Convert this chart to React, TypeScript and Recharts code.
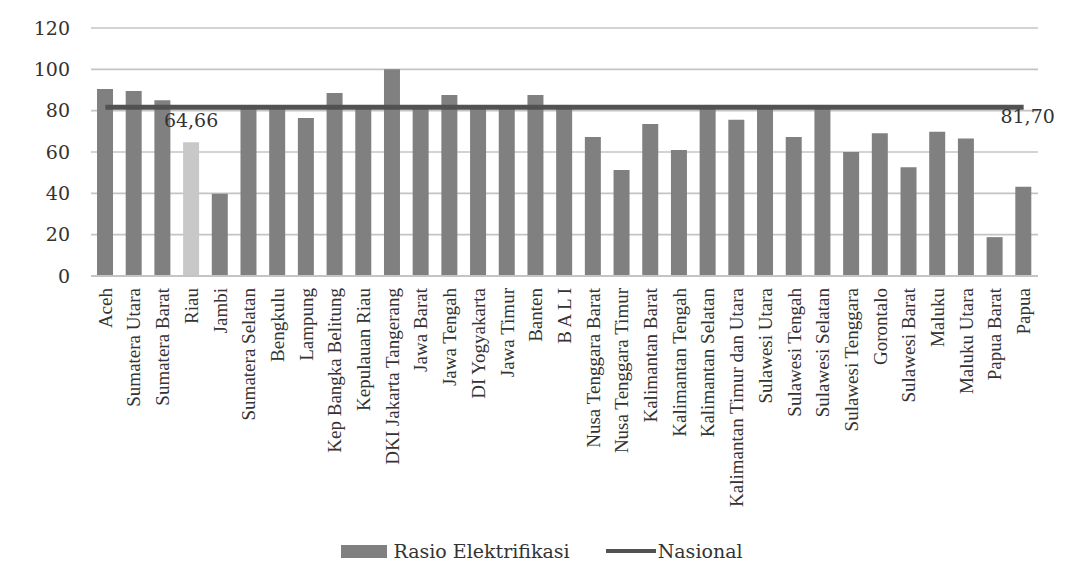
import {
  ComposedChart,
  Bar,
  Line,
  Cell,
  CartesianGrid,
  XAxis,
  YAxis,
  Legend,
  LabelList,
} from "recharts";

const PROVINSI = [
  "Aceh",
  "Sumatera Utara",
  "Sumatera Barat",
  "Riau",
  "Jambi",
  "Sumatera Selatan",
  "Bengkulu",
  "Lampung",
  "Kep Bangka Belitung",
  "Kepulauan Riau",
  "DKI Jakarta Tangerang",
  "Jawa Barat",
  "Jawa Tengah",
  "DI Yogyakarta",
  "Jawa Timur",
  "Banten",
  "B A L I",
  "Nusa Tenggara Barat",
  "Nusa Tenggara Timur",
  "Kalimantan Barat",
  "Kalimantan Tengah",
  "Kalimantan Selatan",
  "Kalimantan Timur dan Utara",
  "Sulawesi Utara",
  "Sulawesi Tengah",
  "Sulawesi Selatan",
  "Sulawesi Tenggara",
  "Gorontalo",
  "Sulawesi Barat",
  "Maluku",
  "Maluku Utara",
  "Papua Barat",
  "Papua",
];

const RASIO = [
  90.5, 89.5, 85, 64.66, 39.8, 81, 81, 76.5, 88.5, 82.5, 100, 81.5, 87.6, 81,
  81.5, 87.6, 81.5, 67.3, 51.3, 73.6, 61, 81.5, 75.6, 81.5, 67.3, 81.5, 60, 69.1,
  52.6, 69.8, 66.5, 18.8, 43.2,
];

const NASIONAL = 81.7;
const SOROTAN = "Riau";

const Y_TICKS = [0, 20, 40, 60, 80, 100, 120];

const BAR_COLOR = "#808080";
const HIGHLIGHT_COLOR = "#c8c8c8";
const LINE_COLOR = "#525252";
const GRID_COLOR = "#c4c4c4";
const TEXT_COLOR = "#333333";

const data = PROVINSI.map((name, i) => ({
  name,
  rasio: RASIO[i],
  nasional: NASIONAL,
}));

const fmt = (v: number) => v.toFixed(2).replace(".", ",");

function ProvinsiTick({ x, y, payload }: any) {
  return (
    <text
      x={x}
      y={y}
      dy="0.34em"
      transform={`rotate(-90, ${x}, ${y})`}
      textAnchor="end"
      fontFamily="'Liberation Serif', serif"
      fontSize={19}
      fill={TEXT_COLOR}
    >
      {payload.value}
    </text>
  );
}

function LegendKonten() {
  return (
    <div
      style={{
        display: "flex",
        alignItems: "center",
        justifyContent: "center",
        paddingLeft: 46,
        paddingTop: 8,
        fontFamily: "'DejaVu Serif', serif",
        fontSize: 19,
        color: TEXT_COLOR,
      }}
    >
      <span
        style={{
          display: "inline-block",
          width: 46,
          height: 13,
          background: BAR_COLOR,
          marginRight: 6,
        }}
      />
      <span style={{ marginRight: 36 }}>Rasio Elektrifikasi</span>
      <span
        style={{
          display: "inline-block",
          width: 50,
          height: 4,
          background: LINE_COLOR,
          marginRight: 2,
        }}
      />
      <span>Nasional</span>
    </div>
  );
}

export default function App() {
  return (
    <div style={{ position: "absolute", left: 0, top: 0, background: "#fff" }}>
      <ComposedChart
        width={1078}
        height={572}
        data={data}
        margin={{ top: 28, right: 40, bottom: 0, left: 0 }}
      >
        <CartesianGrid
          vertical={false}
          stroke={GRID_COLOR}
          strokeWidth={1.6}
        />
        <XAxis
          dataKey="name"
          interval={0}
          height={256}
          tickLine={false}
          axisLine={{ stroke: GRID_COLOR, strokeWidth: 2 }}
          tickSize={4}
          tickMargin={8}
          tick={<ProvinsiTick />}
        />
        <YAxis
          domain={[0, 120]}
          ticks={Y_TICKS}
          width={91}
          axisLine={false}
          tickLine={false}
          tickSize={6}
          tickMargin={15}
          tick={{
            fontFamily: "'DejaVu Serif', serif",
            fontSize: 19,
            fill: TEXT_COLOR,
          }}
        />
        <Legend verticalAlign="bottom" height={40} content={<LegendKonten />} />
        <Bar dataKey="rasio" barSize={16} fill={BAR_COLOR} isAnimationActive={false}>
          {data.map((d) => (
            <Cell
              key={d.name}
              fill={d.name === SOROTAN ? HIGHLIGHT_COLOR : BAR_COLOR}
            />
          ))}
          <LabelList
            dataKey="rasio"
            content={(props: any) => {
              const { x, y, width, value, index } = props;
              if (PROVINSI[index] !== SOROTAN) return null;
              return (
                <text
                  x={x + width / 2}
                  y={y - 22}
                  textAnchor="middle"
                  dominantBaseline="central"
                  fontFamily="'DejaVu Serif', serif"
                  fontSize={19}
                  fill={TEXT_COLOR}
                >
                  {fmt(value)}
                </text>
              );
            }}
          />
        </Bar>
        <Line
          dataKey="nasional"
          stroke={LINE_COLOR}
          strokeWidth={5}
          dot={false}
          activeDot={false}
          isAnimationActive={false}
        >
          <LabelList
            dataKey="nasional"
            content={(props: any) => {
              const { x, y, value, index } = props;
              if (index !== data.length - 1) return null;
              return (
                <text
                  x={x + 4}
                  y={y + 9}
                  textAnchor="middle"
                  dominantBaseline="central"
                  fontFamily="'DejaVu Serif', serif"
                  fontSize={19}
                  fill={TEXT_COLOR}
                >
                  {fmt(value)}
                </text>
              );
            }}
          />
        </Line>
      </ComposedChart>
    </div>
  );
}
